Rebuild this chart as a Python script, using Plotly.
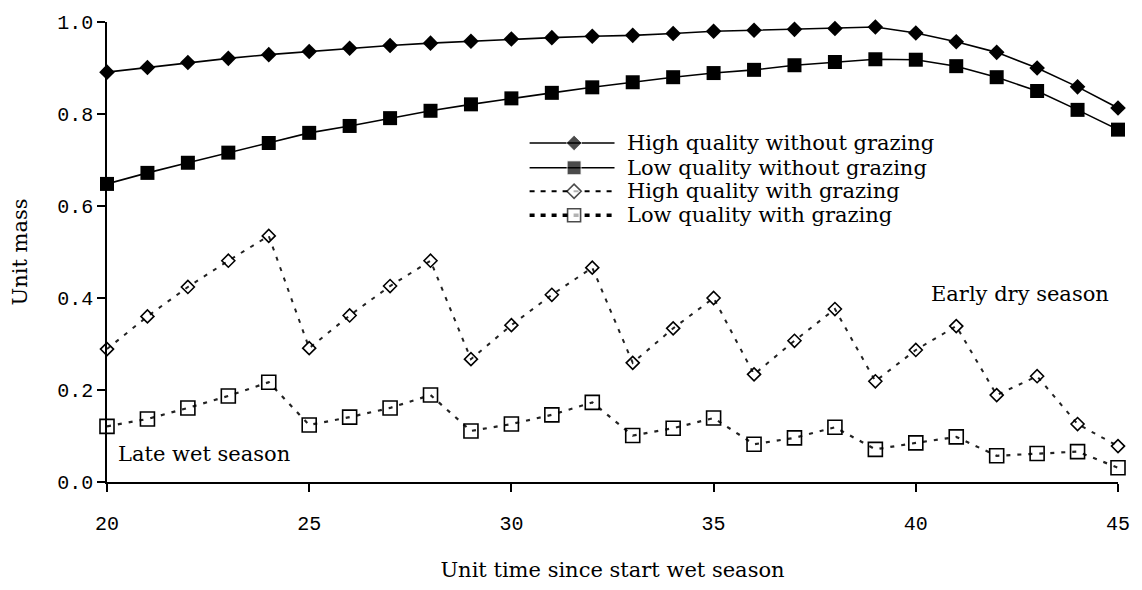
import plotly.graph_objects as go

# Unit time since the start of the wet season
time = list(range(20, 46))

# Unit mass per scenario
high_no_graze = [0.891, 0.901, 0.912, 0.921, 0.929, 0.936, 0.943, 0.949, 0.954, 0.958,
                 0.963, 0.966, 0.969, 0.971, 0.975, 0.980, 0.982, 0.984, 0.986, 0.989,
                 0.976, 0.957, 0.934, 0.900, 0.859, 0.813]
low_no_graze = [0.648, 0.672, 0.694, 0.716, 0.737, 0.759, 0.774, 0.791, 0.807, 0.821,
                0.834, 0.846, 0.858, 0.869, 0.880, 0.889, 0.896, 0.906, 0.913, 0.919,
                0.918, 0.904, 0.880, 0.850, 0.809, 0.766]
high_graze = [0.289, 0.360, 0.424, 0.481, 0.535, 0.291, 0.362, 0.426, 0.481, 0.267,
              0.341, 0.407, 0.466, 0.259, 0.334, 0.400, 0.234, 0.307, 0.376, 0.219,
              0.287, 0.339, 0.189, 0.230, 0.126, 0.078]
low_graze = [0.121, 0.137, 0.161, 0.187, 0.217, 0.124, 0.141, 0.161, 0.189, 0.111,
             0.126, 0.146, 0.173, 0.101, 0.117, 0.139, 0.082, 0.096, 0.119, 0.071,
             0.085, 0.098, 0.057, 0.062, 0.066, 0.031]

series_names = ["High quality without grazing", "Low quality without grazing",
                "High quality with grazing", "Low quality with grazing"]
x_ticks = [20, 25, 30, 35, 40, 45]
y_ticks = [0.0, 0.2, 0.4, 0.6, 0.8, 1.0]

SERIF = "DejaVu Serif"
MONO = "Liberation Mono"
INK = "#000000"
DASH_INK = "#222222"

styles = [
    dict(line=dict(color=INK, width=1.6),
         marker=dict(symbol="diamond", size=12, color=INK)),
    dict(line=dict(color=INK, width=1.6),
         marker=dict(symbol="square", size=14, color=INK)),
    dict(line=dict(color=DASH_INK, width=2, dash="4px,7px"),
         marker=dict(symbol="diamond-open", size=10, color=INK, line=dict(width=1.6, color=INK))),
    dict(line=dict(color=DASH_INK, width=2.2, dash="4px,7px"),
         marker=dict(symbol="square-open", size=14, color=INK, line=dict(width=1.6, color=INK))),
]

fig = go.Figure()
for name, ys, st in zip(series_names, [high_no_graze, low_no_graze, high_graze, low_graze], styles):
    fig.add_trace(go.Scatter(x=time, y=ys, name=name, mode="lines+markers",
                             line=st["line"], marker=st["marker"],
                             showlegend=False, cliponaxis=False))

# Legend keys drawn on an overlay axis in plot-area fractions
key_x = [0.418, 0.462, 0.502]
key_rows = [0.737, 0.683, 0.632, 0.580]
key_lines = [
    dict(color=INK, width=1.6),
    dict(color=INK, width=1.6),
    dict(color=INK, width=2, dash="5px,6px"),
    dict(color=INK, width=3.5, dash="5px,6px"),
]
key_markers = [
    dict(symbol="diamond", size=[0, 12, 0], color=INK),
    dict(symbol="square", size=[0, 14, 0], color=INK),
    dict(symbol="diamond", size=[0, 11, 0], color="white", line=dict(width=1.6, color=INK)),
    dict(symbol="square", size=[0, 13, 0], color="white", line=dict(width=1.6, color=INK)),
]
for name, ry, ln, mk in zip(series_names, key_rows, key_lines, key_markers):
    fig.add_trace(go.Scatter(x=key_x, y=[ry] * 3, mode="lines+markers", line=ln, marker=mk,
                             xaxis="x2", yaxis="y2", showlegend=False, hoverinfo="skip",
                             cliponaxis=False))
    fig.add_annotation(x=0.512, y=ry, xref="paper", yref="paper", text=name,
                       showarrow=False, xanchor="left", yanchor="middle",
                       font=dict(family=SERIF, size=21, color=INK))

fig.add_annotation(x=42.57, y=0.408, text="Early dry season", showarrow=False,
                   xanchor="center", yanchor="middle",
                   font=dict(family=SERIF, size=21, color=INK))
fig.add_annotation(x=22.4, y=0.061, text="Late wet season", showarrow=False,
                   xanchor="center", yanchor="middle",
                   font=dict(family=SERIF, size=21, color=INK))

fig.update_layout(
    width=1142, height=590,
    margin=dict(l=107, r=17, t=20, b=103),
    paper_bgcolor="white", plot_bgcolor="white",
    showlegend=False,
    xaxis=dict(range=[20, 45], tickvals=x_ticks, ticks="outside", ticklen=8, tickwidth=1.5,
               tickcolor=INK, showline=True, linecolor=INK, linewidth=1.5,
               showgrid=False, zeroline=False, ticklabelstandoff=14,
               tickfont=dict(family=MONO, size=20, color=INK),
               title=dict(text="Unit time since start wet season", standoff=28,
                          font=dict(family=SERIF, size=21, color=INK))),
    yaxis=dict(range=[0, 1], tickvals=y_ticks, tickformat=".1f", ticks="outside", ticklen=8,
               tickwidth=1.5, tickcolor=INK, showline=True, linecolor=INK, linewidth=1.5,
               showgrid=False, zeroline=False,
               tickfont=dict(family=MONO, size=20, color=INK),
               title=dict(text="Unit mass", standoff=24,
                          font=dict(family=SERIF, size=21, color=INK))),
    xaxis2=dict(overlaying="x", range=[0, 1], visible=False, fixedrange=True),
    yaxis2=dict(overlaying="y", range=[0, 1], visible=False, fixedrange=True),
)

fig.write_html("out.html")
